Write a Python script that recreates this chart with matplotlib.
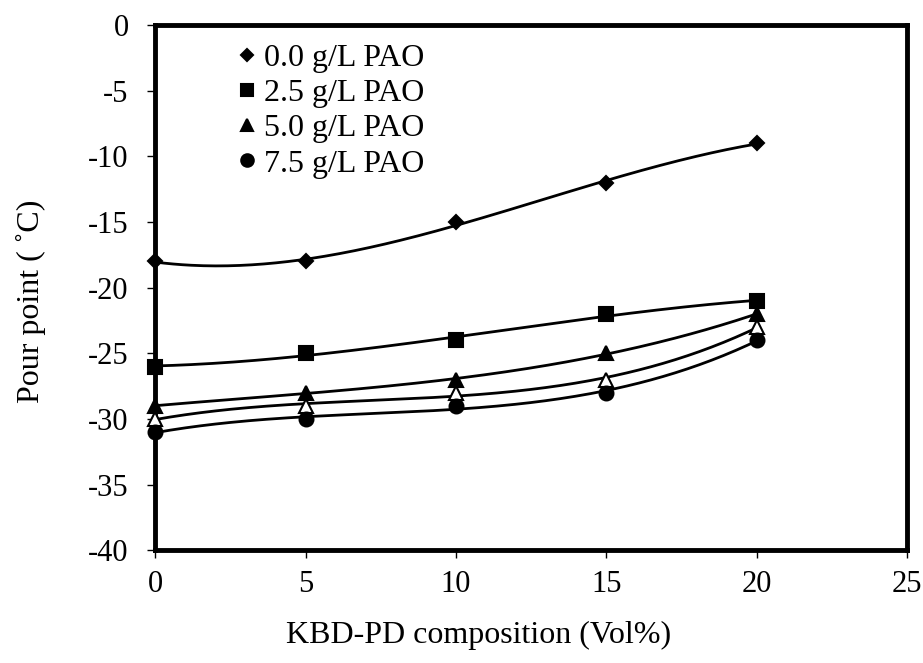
import numpy as np
import matplotlib
matplotlib.use('Agg')
import matplotlib.pyplot as plt

plt.rcParams['font.family'] = ['Liberation Serif', 'DejaVu Serif']
plt.rcParams['axes.unicode_minus'] = False

# KBD-PD 组成 (Vol%)
kbd = [0, 5, 10, 15, 20]
# 各 PAO 浓度下的倾点 (°C)
pao_00 = [-18, -18, -15, -12, -9]
pao_25 = [-26, -25, -24, -22, -21]
pao_50 = [-29, -28, -27, -25, -22]
pao_open = [-30, -29, -28, -27, -23]   # 空心三角，未列入图例
pao_75 = [-31, -30, -29, -28, -24]

labels = ['0.0 g/L PAO', '2.5 g/L PAO', '5.0 g/L PAO', '7.5 g/L PAO']

fig = plt.figure(figsize=(9.23, 6.63), dpi=100)
ax = fig.add_axes([0.168, 0.170, 0.815, 0.792])

xs = np.linspace(0, 20, 200)
series = [
    (pao_00, 'D', 'black', 7, labels[0]),
    (pao_25, 's', 'black', 10, labels[1]),
    (pao_50, '^', 'black', 10, labels[2]),
    (pao_open, '^', 'white', 10, None),
    (pao_75, 'o', 'black', 10, labels[3]),
]
handles = []
for ys, mk, fc, ms, lab in series:
    # 三次多项式趋势线
    coef = np.polyfit(kbd, ys, 3)
    ax.plot(xs, np.polyval(coef, xs), color='black', lw=2, zorder=2)
    h, = ax.plot(kbd, ys, linestyle='none', marker=mk, markersize=ms,
                 markerfacecolor=fc, markeredgecolor='black', markeredgewidth=1.5,
                 clip_on=False, zorder=3, label=lab)
    if lab:
        handles.append(h)

ax.set_xlim(0, 25)
ax.set_ylim(-40, 0)
ax.set_xticks(range(0, 26, 5))
ax.set_yticks(range(-40, 1, 5))
ax.tick_params(direction='out', length=6, width=1, labelsize=22)
ax.tick_params(axis='x', pad=8)
ax.tick_params(axis='y', pad=13)
for sp in ax.spines.values():
    sp.set_linewidth(3.5)

ax.set_xlabel('KBD-PD composition (Vol%)', fontsize=23, labelpad=16)
ax.xaxis.set_label_coords(0.43, -0.135)
ax.set_ylabel('Pour point ( ˚C)', fontsize=23)
ax.yaxis.set_label_coords(-0.145, 0.474)

leg = ax.legend(handles=handles, loc='upper left', bbox_to_anchor=(0.073, 1.02),
                frameon=False, fontsize=23, handlelength=0.5, handletextpad=0.3,
                labelspacing=0.185, markerscale=0.9)

fig.savefig('out.png', dpi=100)
